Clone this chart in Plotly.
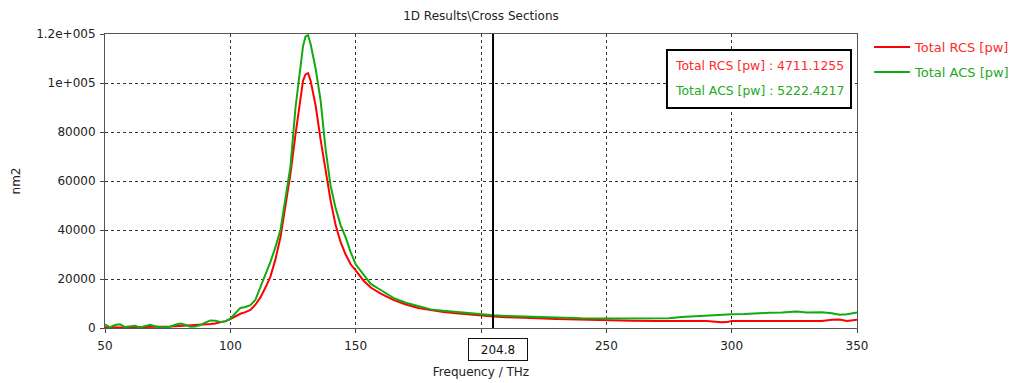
import plotly.graph_objects as go

freq = [50, 52, 54, 56, 58, 60, 62, 64, 66, 68, 70, 72, 74, 76, 78, 80, 82, 84, 86, 88,
        90, 92, 94, 96, 98, 100, 102, 104, 106, 108, 110, 112, 114, 116, 118, 120, 122,
        124, 126, 128, 129, 130, 131, 132, 134, 136, 138, 140, 142, 144, 146, 148, 150,
        153, 156, 160, 165, 170, 175, 180, 185, 190, 195, 200, 205, 210, 215, 220, 230,
        240, 250, 260, 270, 275, 280, 286, 290, 296, 298, 300, 305, 310, 315, 320, 326,
        330, 336, 340, 343, 346, 350]

acs = [1500, 300, 1200, 1500, 400, 700, 900, 200, 900, 1300, 700, 300, 300, 500, 1300,
       1800, 1300, 500, 600, 1200, 2200, 3100, 3000, 2500, 2700, 3800, 6000, 8200, 8600,
       9300, 11500, 16500, 22000, 27000, 33000, 40000, 53000, 66000, 90000, 108000,
       115000, 119000, 119500, 116000, 106000, 93000, 73000, 58000, 49000, 42000, 37000,
       31000, 26000, 22000, 18000, 15500, 12300, 10300, 8900, 7600, 7000, 6500, 6000,
       5600, 5200, 4900, 4700, 4500, 4100, 3950, 3900, 3900, 3900, 4000, 4500, 4900,
       5000, 5300, 5500, 5600, 5700, 6100, 6200, 6300, 6700, 6300, 6400, 6000, 5400,
       5600, 6300]

rcs = [300, 200, 200, 200, 200, 300, 300, 300, 400, 400, 400, 400, 500, 600, 700, 800,
       900, 900, 1000, 1100, 1400, 1600, 1800, 2200, 2800, 3600, 4800, 5800, 6500, 7400,
       9500, 12500, 16500, 21000, 28000, 37000, 50000, 63000, 79000, 95000, 101000,
       103500, 104000, 101000, 91000, 77000, 64000, 52000, 42000, 35000, 30000, 26000,
       23500, 19500, 16500, 14000, 11500, 9600, 8200, 7200, 6500, 6000, 5500, 5100, 4700,
       4400, 4300, 4100, 3700, 3400, 3250, 3000, 2900, 2850, 2850, 2850, 2850, 2300,
       2400, 2850, 2850, 2850, 2850, 2850, 2850, 2850, 2850, 3400, 3500, 2900, 3400]

marker_freq = 204.8
rcs_at_marker = "4711.1255"
acs_at_marker = "5222.4217"

x_ticks = [50, 100, 150, 200, 250, 300, 350]
x_ticktext = ["50", "100", "150", "", "250", "300", "350"]
y_ticks = [0, 20000, 40000, 60000, 80000, 100000, 120000]
y_ticktext = ["0", "20000", "40000", "60000", "80000", "1e+005", "1.2e+005"]

RED = "#ff0000"
GREEN = "#11aa11"
RED_TXT = "#ff2a2a"
GREEN_TXT = "#22aa22"
FONT = "DejaVu Sans"
TXT = "#222222"

fig = go.Figure()
fig.add_trace(go.Scatter(x=freq, y=rcs, mode="lines", line=dict(color=RED, width=2),
                         name=f"<span style='color:{RED_TXT}'>Total RCS [pw]</span>",
                         legend="legend"))
fig.add_trace(go.Scatter(x=freq, y=acs, mode="lines", line=dict(color=GREEN, width=2),
                         name=f"<span style='color:{GREEN_TXT}'>Total ACS [pw]</span>",
                         legend="legend2"))

axis_common = dict(showline=True, linecolor="#555555", linewidth=1, mirror=True,
                   showgrid=True, gridcolor="#333333", griddash="dot", gridwidth=1,
                   zeroline=False, ticks="outside", ticklen=4, tickcolor="#444444",
                   automargin=False,
                   tickfont=dict(family=FONT, size=12, color=TXT))

fig.update_xaxes(range=[50, 350], tickvals=x_ticks, ticktext=x_ticktext,
                 ticklabelstandoff=3,
                 title=dict(text="Frequency / THz", font=dict(family=FONT, size=12, color=TXT),
                            standoff=15),
                 **axis_common)
fig.update_yaxes(range=[0, 120000], tickvals=y_ticks, ticktext=y_ticktext,
                 ticklabelstandoff=2,
                 title=dict(text="nm2", font=dict(family=FONT, size=12, color=TXT),
                            standoff=12),
                 **axis_common)

fig.add_shape(type="line", xref="x", yref="paper", x0=marker_freq, x1=marker_freq,
              y0=0, y1=1, line=dict(color="black", width=2))

fig.add_annotation(x=marker_freq, y=0, xref="x", yref="paper", yanchor="top",
                   yshift=-10, xshift=5, text=f"{marker_freq}", showarrow=False,
                   font=dict(family=FONT, size=12, color="#111111"),
                   width=56, height=19,
                   bordercolor="#111111", borderwidth=1, borderpad=1, bgcolor="white")

# value box at marker
fig.add_shape(type="rect", xref="paper", yref="paper", x0=0.7473, x1=0.992,
              y0=0.7483, y1=0.9456, line=dict(color="black", width=2), fillcolor="white")
fig.add_annotation(x=0.7553, y=0.8912, xref="paper", yref="paper", xanchor="left",
                   yanchor="middle", showarrow=False,
                   text=f"Total RCS [pw] : {rcs_at_marker}",
                   font=dict(family=FONT, size=12.4, color=RED_TXT))
fig.add_annotation(x=0.7553, y=0.8095, xref="paper", yref="paper", xanchor="left",
                   yanchor="middle", showarrow=False,
                   text=f"Total ACS [pw] : {acs_at_marker}",
                   font=dict(family=FONT, size=12.4, color=GREEN_TXT))

legend_common = dict(xanchor="left", yanchor="middle", bgcolor="rgba(0,0,0,0)",
                     font=dict(family=FONT, size=13), itemwidth=36, borderwidth=0)

fig.update_layout(
    width=1013, height=383,
    margin=dict(l=105, r=156, t=34, b=55, autoexpand=False),
    paper_bgcolor="white", plot_bgcolor="white",
    title=dict(text="1D Results\\Cross Sections", x=0.4748, xanchor="center",
               y=0.96, yanchor="middle", font=dict(family=FONT, size=12, color=TXT)),
    showlegend=True,
    legend=dict(x=1.016, y=(328 - 47) / 294, **legend_common),
    legend2=dict(x=1.016, y=(328 - 72) / 294, **legend_common),
)

fig.write_html("out.html")
